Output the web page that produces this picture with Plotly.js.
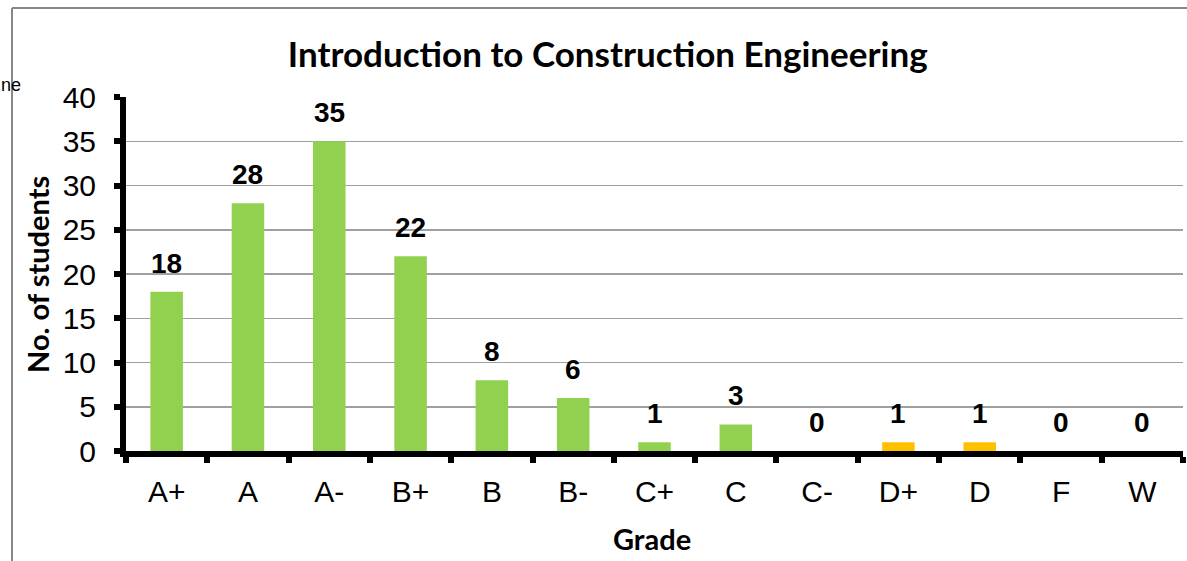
<!DOCTYPE html>
<html><head><meta charset="utf-8">
<script src="https://cdn.plot.ly/plotly-3.0.1.min.js"></script>
<style>html,body{margin:0;padding:0;background:#fff;}#chart{width:1187px;height:561px;}</style>
</head><body><div id="chart"></div>
<script>
const grades = ["A+","A","A-","B+","B","B-","C+","C","C-","D+","D","F","W"];
const students = [18,28,35,22,8,6,1,3,0,1,1,0,0];
const barColors = ["#92D050","#92D050","#92D050","#92D050","#92D050","#92D050","#92D050","#92D050","#92D050","#FFC000","#FFC000","#92D050","#92D050"];
const yTicks = [0,5,10,15,20,25,30,35,40];

const W = 1187, H = 561;
const M = {l:126, r:4, t:97, b:110};
const pw = W - M.l - M.r, ph = H - M.t - M.b;
const px = x => (x - M.l) / pw;
const py = y => (H - M.b - y) / ph;

const labelAnns = grades.map((g, i) => ({
  x: g, y: students[i], xref: 'x', yref: 'y', text: String(students[i]),
  showarrow: false, yanchor: 'bottom', yshift: 11,
  font: {family: 'Liberation Sans, Arial, sans-serif', size: 28, color: '#000', weight: 'bold'}
}));

const titleFont = {family: 'Lato, Open Sans, sans-serif', size: 29, color: '#000'};

const layout = {
  width: W, height: H,
  margin: M,
  paper_bgcolor: '#fff', plot_bgcolor: '#fff',
  showlegend: false,
  bargap: 0.6,
  title: {text: '<b>Introduction to Construction Engineering</b>', x: 0.512, xref: 'container', y: 1 - 55/H, yref: 'container', xanchor: 'center', yanchor: 'middle',
    font: {family: 'Lato, Open Sans, sans-serif', size: 35, color: '#000'}},
  xaxis: {
    type: 'category', categoryarray: grades,
    showline: true, linecolor: '#000', linewidth: 6,
    ticks: 'outside', tickson: 'boundaries', ticklen: 6, tickwidth: 6, tickcolor: '#000',
    ticklabelstandoff: 9,
    showgrid: false, zeroline: false,
    tickfont: {family: 'Liberation Sans, Arial, sans-serif', size: 30, color: '#000'}
  },
  yaxis: {
    range: [0, 40], tickvals: yTicks, ticktext: yTicks.map(String),
    showline: true, linecolor: '#000', linewidth: 6,
    ticks: 'outside', ticklen: 6, tickwidth: 6, tickcolor: '#000',
    ticklabelstandoff: 12,
    showgrid: true, gridcolor: '#a0a0a0', gridwidth: 1.5, zeroline: false,
    tickfont: {family: 'Liberation Sans, Arial, sans-serif', size: 30, color: '#000'}
  },
  annotations: labelAnns.concat([
    {xref: 'paper', yref: 'paper', x: px(-1), y: py(85), xanchor: 'left', yanchor: 'middle',
      text: 'ne', showarrow: false, font: {family: 'Liberation Sans, Arial, sans-serif', size: 18, color: '#000'}},
    {xref: 'paper', yref: 'paper', x: px(652), y: py(538), xanchor: 'center', yanchor: 'middle',
      text: '<b>Grade</b>', showarrow: false, font: titleFont},
    {xref: 'paper', yref: 'paper', x: px(37), y: py(275), xanchor: 'center', yanchor: 'middle', textangle: -90,
      text: '<b>No. of students</b>', showarrow: false, font: titleFont}
  ]),
  shapes: [
    {type: 'line', xref: 'paper', yref: 'paper', x0: px(12), x1: px(1190), y0: py(8), y1: py(8), line: {color: '#888', width: 2}},
    {type: 'line', xref: 'paper', yref: 'paper', x0: px(12), x1: px(12), y0: py(8), y1: py(565), line: {color: '#888', width: 2}}
  ]
};

Plotly.newPlot('chart', [{
  type: 'bar', x: grades, y: students,
  marker: {color: barColors, line: {width: 0}},
  hoverinfo: 'x+y'
}], layout, {staticPlot: true});
</script></body></html>
